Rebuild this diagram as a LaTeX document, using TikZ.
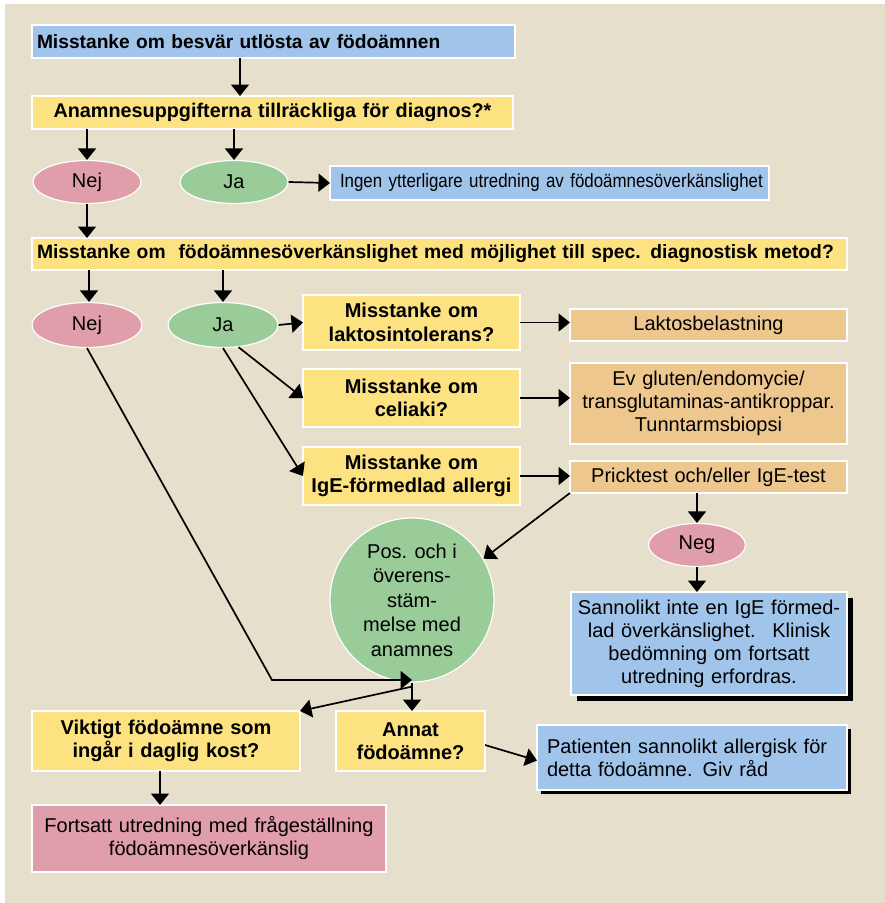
\documentclass[tikz,border=0pt]{standalone}
\usepackage{fontspec}
\setmainfont{Liberation Sans}
\newfontfamily\condfont[FakeStretch=0.88]{Liberation Sans}
\usetikzlibrary{arrows.meta,shapes.geometric,shadows}

\definecolor{bg}{RGB}{230,223,204}
\definecolor{cblue}{RGB}{160,196,234}
\definecolor{cyellow}{RGB}{253,226,130}
\definecolor{cpink}{RGB}{224,157,170}
\definecolor{cgreen}{RGB}{154,204,153}
\definecolor{ctan}{RGB}{238,199,142}

\begin{document}
\begin{tikzpicture}[x=1pt,y=-1pt,
  arr/.style={-{Triangle[length=11.5pt,width=18pt]}, line width=1.7pt},
  box/.style n args={3}{rectangle, draw=white, line width=1.2pt, inner sep=0pt,
    outer sep=0pt, anchor=north west, minimum width=#1, minimum height=#2,
    text width=#3},
  boldtxt/.style={font=\fontsize{20}{23.5}\selectfont\bfseries},
  condtxt/.style={font=\fontsize{19.2}{23}\selectfont\condfont},
  plaintxt/.style={font=\fontsize{20}{23}\selectfont},
  oval/.style={ellipse, draw=white, line width=1.2pt, inner sep=0pt,
    minimum width=#1, minimum height=43pt, font=\fontsize{20}{23}\selectfont},
  blackshadow/.style={general shadow={shadow xshift=#1, shadow yshift=-#1, fill=black}}
]
% page and background panel
\useasboundingbox (0,0) rectangle (885,903);
\fill[white] (0,0) rectangle (885,903);
\fill[bg] (5,4) rectangle (885,903);

% first question
\node[box={483pt}{33pt}{473pt}, fill=cblue, font=\fontsize{19.2}{23}\selectfont\bfseries, align=left] (top) at (32,25)
  {Misstanke om besvär utlösta av födoämnen};
\node[box={481pt}{33pt}{481pt}, fill=cyellow, font=\fontsize{19.8}{23}\selectfont\bfseries, align=center] (anam) at (32,96)
  {Anamnesuppgifterna tillräckliga för diagnos?*};
\node[oval=108pt, fill=cpink] (nej1) at (87,182) {Nej};
\node[oval=108pt, fill=cgreen] (ja1) at (234,182) {Ja};
\node[box={439pt}{34pt}{419pt}, fill=cblue, condtxt, align=left] (ingen) at (330,166)
  {\makebox[419pt][l]{Ingen ytterligare utredning av födoämnesöverkänslighet}};

% second question
\node[box={815pt}{32pt}{805pt}, fill=cyellow, font=\fontsize{19.3}{23}\selectfont\bfseries, align=left] (q2) at (32,238)
  {Misstanke om~ födoämnesöverkänslighet med möjlighet till spec. diagnostisk metod?};
\node[oval=110pt, minimum height=45pt, fill=cpink] (nej2) at (87,325) {Nej};
\node[oval=110pt, minimum height=45pt, fill=cgreen] (ja2) at (223,325) {Ja};

% specific suspicions and tests
\node[box={217pt}{55pt}{217pt}, fill=cyellow, boldtxt, align=center] (lak) at (303,295)
  {Misstanke om\\laktosintolerans?};
\node[box={277pt}{32pt}{277pt}, fill=ctan, plaintxt, align=center] (lakbel) at (570,309)
  {Laktosbelastning};
\node[box={217pt}{58pt}{217pt}, fill=cyellow, boldtxt, align=center] (cel) at (303,369)
  {Misstanke om\\celiaki?};
\node[box={277pt}{81pt}{277pt}, fill=ctan, plaintxt, align=center] (celtest) at (570,363)
  {Ev gluten/endomycie/\\transglutaminas-antikroppar.\\Tunntarmsbiopsi};
\node[box={217pt}{58pt}{217pt}, fill=cyellow, boldtxt, align=center] (ige) at (303,447)
  {Misstanke om\\IgE-förmedlad allergi};
\node[box={277pt}{32pt}{277pt}, fill=ctan, plaintxt, align=center] (prick) at (570,461)
  {Pricktest och/eller IgE-test};

\node[oval=97pt, fill=cpink] (neg) at (697,545) {Neg};
\node[box={276pt}{103pt}{276pt}, fill=cblue, plaintxt, align=center, blackshadow=6pt] (sann) at (571,592)
  {Sannolikt inte en IgE förmed-\\lad överkänslighet.~ Klinisk\\bedömning om fortsatt\\utredning erfordras.};

\node[circle, draw=white, line width=1.2pt, fill=cgreen, minimum size=164pt, inner sep=0pt,
  align=center, font=\fontsize{20}{24.5}\selectfont] (circ) at (412,600)
  {Pos. och i\\överens-\\stäm-\\melse med\\anamnes};

% outcome
\node[box={268pt}{60pt}{268pt}, fill=cyellow, boldtxt, align=center] (vikt) at (32,711)
  {Viktigt födoämne som\\ingår i daglig kost?};
\node[box={149pt}{60pt}{149pt}, fill=cyellow, boldtxt, align=center] (annat) at (336,711)
  {Annat\\födoämne?};
\node[box={310pt}{65pt}{290pt}, fill=cblue, plaintxt, align=left, blackshadow=4pt] (pat) at (537,725)
  {Patienten sannolikt allergisk för\\detta födoämne. Giv råd};
\node[box={354pt}{67pt}{354pt}, fill=cpink, plaintxt, align=center] (fort) at (32,805)
  {Fortsatt utredning med frågeställning\\födoämnesöverkänslig};

% connectors
\coordinate (bend) at (272,680);
\draw[arr] ([xshift=208pt]top.south west) -- ([xshift=208pt]anam.north west);
\draw[arr] (anam.south -| nej1) -- (nej1.north);
\draw[arr] (anam.south -| ja1) -- (ja1.north);
\draw[arr] (ja1.east) -- (ingen.west);
\draw[arr] (nej1.south) -- (nej1.south |- q2.north);
\draw[arr] ([xshift=2pt]q2.south -| nej2) -- ([xshift=2pt]nej2.north);
\draw[arr] (q2.south -| ja2) -- (ja2.north);
\draw[arr] (ja2.east) -- (lak.west);
\draw[arr] (lak.east) -- (lak.east -| lakbel.west);
\draw[arr] (ja2.-55) -- (cel.west);
\draw[arr] (ja2.south) -- (ige.west);
\draw[arr] (cel.east) -- (cel.east -| celtest.west);
\draw[arr] (ige.east) -- (ige.east -| prick.west);
\draw[arr] (prick.south west) -- (circ.30);
\draw[arr] (prick.south -| neg) -- (neg.north);
\draw[arr] (neg.south) -- (neg.south |- sann.north);
\draw[arr] (nej2.south) -- (bend) -- (bend -| circ.south);
\draw[arr] (circ.south) -- (circ.south |- annat.north);
\draw[arr] ([yshift=-4pt]circ.south) -- (vikt.north east);
\draw[arr] ([yshift=-4pt]annat.east) -- ([yshift=-3pt]pat.west);
\draw[arr] ([xshift=-6pt]vikt.south) -- ([xshift=-6pt]vikt.south |- fort.north);
\end{tikzpicture}
\end{document}
